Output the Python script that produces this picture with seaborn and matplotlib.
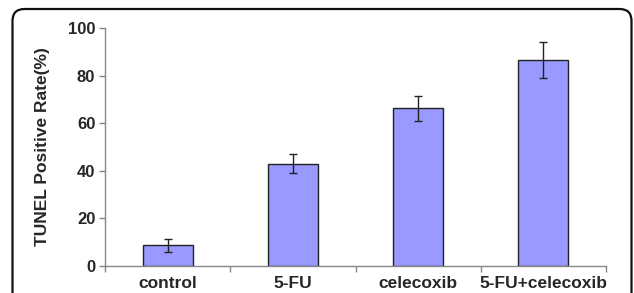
import matplotlib
matplotlib.use("Agg")
import matplotlib.pyplot as plt
import seaborn as sns
import pandas as pd
from matplotlib.patches import FancyBboxPatch

categories = ["control", "5-FU", "celecoxib", "5-FU+celecoxib"]
values = [8.7, 43.0, 66.3, 86.5]
errors = [2.7, 4.0, 5.3, 7.5]
yticks = [0, 20, 40, 60, 80, 100]

sns.set_style("white")
plt.rcParams['font.family'] = ['Liberation Sans', 'DejaVu Sans']
plt.rcParams['font.weight'] = 'bold'

df = pd.DataFrame({"group": categories, "rate": values})

fig = plt.figure(figsize=(6.34, 2.93), dpi=100)
ax = fig.add_axes([105/634, (293-266)/293, (606-105)/634, (266-28)/293])

sns.barplot(data=df, x="group", y="rate", ax=ax, color="#9999ff",
            saturation=1, width=0.4, edgecolor="#222222", linewidth=1.0,
            errorbar=None)
ax.errorbar(range(len(categories)), values, yerr=errors, fmt="none",
            ecolor="#222222", elinewidth=1.0, capsize=3, capthick=1.0)

ax.set_xlim(-0.5, len(categories) - 0.5)
ax.set_ylim(0, 100)
ax.set_yticks(yticks)
ax.set_yticklabels([str(t) for t in yticks], fontsize=12, fontweight='bold')
ax.set_xticks(range(len(categories)))
ax.set_xticklabels(categories, fontsize=12.5, fontweight='bold')
ax.tick_params(axis='x', length=0, pad=7)
ax.tick_params(axis='y', length=4, width=1, color="#888888", direction='out', left=True, pad=3)
# minor ticks at category boundaries
ax.set_xticks([i - 0.5 for i in range(len(categories) + 1)], minor=True)
ax.tick_params(axis='x', which='minor', length=4, width=1, color="#888888", direction='out', bottom=True)

ax.set_xlabel("")
ax.set_ylabel("TUNEL Positive Rate(%)", fontsize=12.5, fontweight='bold', labelpad=13)

for s in ["top", "right"]:
    ax.spines[s].set_visible(False)
for s in ["left", "bottom"]:
    ax.spines[s].set_color("#888888")
    ax.spines[s].set_linewidth(1.0)

frame = FancyBboxPatch((0.125, -0.3), 6.19, 2.3 + 0.84,
                       boxstyle="round,pad=0,rounding_size=0.12",
                       transform=fig.dpi_scale_trans, fill=False,
                       edgecolor="#111111", linewidth=1.6, clip_on=False)
fig.patches.append(frame)

fig.savefig("out.png", dpi=100)
